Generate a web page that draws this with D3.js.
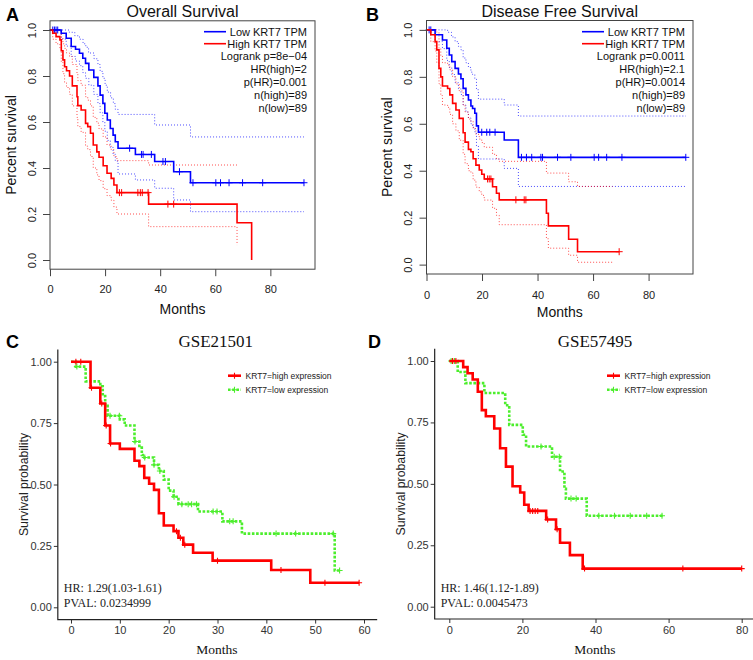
<!DOCTYPE html>
<html><head><meta charset="utf-8">
<script src="https://cdn.jsdelivr.net/npm/d3@7"></script>
<style>body{margin:0;background:#fff}svg{display:block}</style>
</head><body>
<svg id="chart" width="753" height="660"></svg>
<script>
// ---------- tick labels ----------
const rTicksX = [0, 20, 40, 60, 80];
const rTicksY = [0, 0.2, 0.4, 0.6, 0.8, 1.0];
const ggTicksY = [0, 0.25, 0.5, 0.75, 1];
const cTicksX = [0, 10, 20, 30, 40, 50, 60];
const dTicksX = [0, 20, 40, 60, 80];
const rLegend = ["Low KRT7 TPM", "High KRT7 TPM"];
const ggLegend = ["KRT7=high expression", "KRT7=low expression"];
const osStats = ["Logrank p=8e\u221204", "HR(high)=2", "p(HR)=0.001", "n(high)=89", "n(low)=89"];
const dfsStats = ["Logrank p=0.0011", "HR(high)=2.1", "p(HR)=0.0014", "n(high)=89", "n(low)=89"];
const cStats = ["HR: 1.29(1.03-1.61)", "PVAL: 0.0234999"];
const dStats = ["HR: 1.46(1.12-1.89)", "PVAL: 0.0045473"];

// ---------- A: Overall survival [month, survival] ----------
const osLow = [[0,1],[4.06,0.986],[5.88,0.964],[7.7,0.928],[9.27,0.916],[10.7,0.899],[11.9,0.877],[12.9,0.855],[14.1,0.826],[15.9,0.794],[17.4,0.757],[18.2,0.717],[19.2,0.681],[19.9,0.638],[20.8,0.609],[21.9,0.572],[22.9,0.543],[23.7,0.514],[24.7,0.486],[31,0.459],[38,0.428],[44.9,0.384],[51,0.336],[92.2,0.336]];
const osLowCens = [1.0,1.6,2.2,2.8,28.9,33.2,33.8,36.8,41.0,41.9,47,51.9,60.2,61.9,65,69.9,77.2,92.2];
const osLowUp = [[0,1],[7,0.99],[9,0.975],[10.7,0.96],[12,0.94],[13,0.925],[14,0.9],[16,0.875],[17.4,0.85],[18.2,0.82],[19.2,0.79],[20,0.76],[20.8,0.73],[22,0.705],[23,0.68],[23.7,0.655],[24.7,0.633],[38,0.587],[51,0.535],[92.2,0.535]];
const osLowLo = [[0,1],[4.06,0.96],[5.88,0.93],[7.7,0.885],[9.27,0.865],[10.7,0.845],[11.9,0.815],[12.9,0.79],[14.1,0.76],[15.9,0.72],[17.4,0.68],[18.2,0.64],[19.2,0.6],[19.9,0.56],[20.8,0.52],[21.9,0.49],[22.9,0.46],[23.7,0.43],[24.7,0.374],[31,0.348],[38,0.312],[44.9,0.261],[51,0.21],[92.2,0.21]];
const osHigh = [[0,1],[1,0.986],[2.2,0.971],[3.6,0.957],[4.1,0.91],[4.7,0.87],[5.3,0.84],[6,0.823],[7.1,0.8],[8.1,0.757],[9.8,0.71],[10.1,0.671],[11.3,0.652],[12.9,0.594],[13.7,0.58],[14.7,0.551],[15.7,0.5],[17,0.47],[17.8,0.447],[19.3,0.41],[20.7,0.377],[22.2,0.355],[23.2,0.326],[24.3,0.293],[35.8,0.243],[67.9,0.162],[73.2,0]];
const osHighCens = [25.2,26.0,31.9,32.8,33.5,35.6,42.8,44.9];
const osHighUp = [[0,1],[4.1,0.97],[4.7,0.94],[5.3,0.92],[6,0.9],[7.1,0.885],[8.1,0.85],[9.8,0.81],[10.1,0.78],[11.3,0.76],[12.9,0.71],[13.7,0.695],[14.7,0.67],[15.7,0.62],[17,0.595],[17.8,0.57],[19.3,0.535],[20.7,0.5],[22.2,0.48],[23.2,0.45],[24.3,0.432],[35.8,0.413],[67.9,0.413]];
const osHighLo = [[0,1],[1,0.96],[2.2,0.94],[3.6,0.92],[4.1,0.86],[4.7,0.81],[5.3,0.77],[6,0.75],[7.1,0.72],[8.1,0.67],[9.8,0.62],[10.1,0.58],[11.3,0.555],[12.9,0.495],[13.7,0.48],[14.7,0.45],[15.7,0.4],[17,0.37],[17.8,0.345],[19.3,0.31],[20.7,0.28],[22.2,0.26],[23.2,0.23],[24.3,0.2],[35.8,0.145],[67.9,0.065]];

// ---------- B: Disease free survival ----------
const dfsLow = [[0,1],[3.1,0.979],[5.75,0.957],[7.3,0.922],[8.2,0.893],[9.1,0.865],[10.3,0.836],[11.5,0.812],[12.4,0.792],[13.2,0.751],[14.2,0.723],[15.1,0.701],[16,0.676],[16.6,0.665],[17.4,0.645],[18,0.591],[18.7,0.564],[28,0.531],[33.1,0.457],[93.4,0.457]];
const dfsLowCens = [0.95,1.55,19.9,21.7,22.8,24.7,34.2,36,37.9,41.2,41.8,47.2,52,60.4,62,64.9,70.4,93.4];
const dfsLowUp = [[0,1],[7.6,0.99],[9,0.97],[10.3,0.95],[11.5,0.93],[12.4,0.915],[13.2,0.88],[14.2,0.86],[15.1,0.84],[16,0.82],[16.6,0.81],[17.4,0.79],[18,0.745],[18.7,0.705],[28,0.68],[33.1,0.633],[93.4,0.633]];
const dfsLowLo = [[0,1],[3.1,0.95],[5.75,0.92],[7.3,0.87],[8.2,0.84],[9.1,0.81],[10.3,0.775],[11.5,0.75],[12.4,0.725],[13.2,0.68],[14.2,0.65],[15.1,0.625],[16,0.6],[16.6,0.585],[17.4,0.565],[18,0.505],[18.7,0.45],[28,0.41],[33.1,0.333],[93.4,0.333]];
const dfsHigh = [[0,1],[1.55,0.979],[3.1,0.95],[3.7,0.915],[4.5,0.836],[5.15,0.8],[5.75,0.761],[7.6,0.75],[8.4,0.723],[9.4,0.687],[10.6,0.659],[11.8,0.623],[13.2,0.562],[13.9,0.522],[15.1,0.491],[16,0.481],[16.8,0.451],[17.8,0.424],[19,0.403],[19.9,0.385],[20.8,0.365],[23.8,0.332],[25.2,0.304],[26.2,0.276],[43.2,0.219],[43.9,0.165],[51.2,0.108],[54.4,0.055],[69.4,0.055]];
const dfsHighCens = [22,22.6,23.2,32.2,35.2,35.8,69.4];
const dfsHighUp = [[0,1],[3.7,0.99],[4.5,0.92],[5.15,0.89],[5.75,0.86],[7.6,0.85],[8.4,0.83],[9.4,0.8],[10.6,0.77],[11.8,0.74],[13.2,0.68],[13.9,0.65],[15.1,0.62],[16,0.61],[16.8,0.58],[17.8,0.555],[19,0.535],[19.9,0.52],[20.8,0.5],[23.8,0.47],[25.2,0.45],[26.2,0.44],[43.2,0.39],[51.2,0.353],[54.4,0.333],[67,0.333]];
const dfsHighLo = [[0,1],[1.55,0.95],[3.1,0.91],[3.7,0.86],[4.5,0.77],[5.15,0.72],[5.75,0.68],[7.6,0.67],[8.4,0.64],[9.4,0.6],[10.6,0.57],[11.8,0.53],[13.2,0.47],[13.9,0.43],[15.1,0.4],[16,0.39],[16.8,0.36],[17.8,0.33],[19,0.31],[19.9,0.295],[20.8,0.275],[23.8,0.24],[25.2,0.21],[26.2,0.17],[43.2,0.11],[43.9,0.07],[51.2,0.04],[54.4,0.01],[67,0.01]];

// ---------- C: GSE21501 ----------
const cHigh = [[0,1],[4,0.894],[6,0.83],[7,0.74],[8,0.667],[10,0.645],[13,0.597],[14,0.575],[15,0.527],[16,0.503],[17,0.478],[18,0.383],[19,0.333],[21,0.31],[22,0.283],[23,0.255],[25,0.222],[29,0.19],[41,0.152],[49,0.1],[59,0.1]];
const cHighCens = [1,2,4.2,6.3,7.2,8.1,21.6,22.4,23.3,30,43,52,59];
const cLow = [[0,1],[1,0.98],[3,0.92],[6,0.9],[6.5,0.86],[7,0.82],[7.5,0.78],[10,0.765],[11,0.74],[13,0.675],[14,0.65],[14.5,0.62],[15,0.61],[17,0.58],[18,0.555],[19,0.52],[20,0.475],[21,0.45],[22,0.42],[26,0.39],[31,0.35],[35,0.3],[54,0.15],[55,0.15]];
const cLowCens = [1.2,8,9.9,13.1,15.1,17,18.2,21.1,22.7,24,24.7,25.7,29.1,29.9,32.5,33.2,42,46,53.7,55];

// ---------- D: GSE57495 ----------
const dHigh = [[0,1],[3.8,0.975],[5,0.95],[6.4,0.925],[7.8,0.875],[8.9,0.8],[10,0.775],[12.3,0.725],[13.9,0.645],[15.5,0.57],[17.3,0.49],[19.4,0.465],[20.5,0.415],[21.7,0.39],[26.5,0.355],[29.2,0.315],[30.3,0.26],[33,0.21],[36.5,0.155],[80,0.155]];
const dHighCens = [0.9,1.8,22.1,22.8,23.5,24.2,26.9,29.5,37,63.9,80];
const dLow = [[0,1],[2.3,0.955],[4.4,0.91],[9.6,0.87],[15.3,0.82],[16.4,0.74],[20.1,0.7],[21,0.652],[28.1,0.61],[30.3,0.55],[31.5,0.48],[31.9,0.44],[37.6,0.37],[58.4,0.37]];
const dLowCens = [0.5,1.4,25.1,28.7,30.1,33.3,34.7,40.9,45.2,49.5,54,58.2];

// ---------- drawing ----------
const svg = d3.select("#chart");
const SANS = "'Liberation Sans', Arial, sans-serif";
const SERIF = "'Liberation Serif', 'Times New Roman', serif";
const BLUE = "#0000ff", RED = "#ff0000", GREEN = "#4cee2c";

function survAt(steps, t) {
  let v = steps[0][1];
  for (const s of steps) { if (s[0] <= t) v = s[1]; }
  return v;
}
function crossPath(x, y, r) {
  return `M${x - r},${y}H${x + r}M${x},${y - r}V${y + r}`;
}

function rPanel(cfg) {
  const g = svg.append("g");
  const sx = d3.scaleLinear().domain([0, cfg.xMax]).range([cfg.x0, cfg.x1]);
  const sy = d3.scaleLinear().domain([-0.04, 1.04]).range([cfg.y1, cfg.y0]);
  const line = d3.line().x(d => sx(d[0])).y(d => sy(d[1])).curve(d3.curveStepAfter);

  cfg.ci.forEach(c => {
    g.append("path").attr("d", line(c.data)).attr("fill", "none")
      .attr("stroke", c.color).attr("stroke-width", 1).attr("stroke-opacity", 0.7)
      .attr("stroke-dasharray", "1,2");
  });
  cfg.curves.forEach(c => {
    g.append("path").attr("d", line(c.data)).attr("fill", "none")
      .attr("stroke", c.color).attr("stroke-width", 1.6);
    g.append("path").attr("d", c.cens.map(t => crossPath(sx(t), sy(survAt(c.data, t)), 3.5)).join(""))
      .attr("fill", "none").attr("stroke", c.color).attr("stroke-width", 1);
  });
  g.append("rect").attr("x", cfg.x0).attr("y", cfg.y0)
    .attr("width", cfg.x1 - cfg.x0).attr("height", cfg.y1 - cfg.y0)
    .attr("fill", "none").attr("stroke", "#444").attr("stroke-width", 1);

  const ax = d3.axisBottom(sx).tickValues(rTicksX).tickSize(7).tickPadding(cfg.xPad).tickFormat(d3.format("d"));
  const axg = g.append("g").attr("transform", `translate(0,${cfg.y1})`).call(ax);
  axg.select(".domain").remove();
  axg.selectAll("line").attr("stroke", "#444");
  axg.selectAll("text").attr("font-family", SANS).attr("font-size", 11).attr("fill", "#222");
  const ay = d3.axisLeft(sy).tickValues(rTicksY).tickSize(7).tickFormat(d3.format(".1f"));
  const ayg = g.append("g").attr("transform", `translate(${cfg.x0},0)`).call(ay);
  ayg.select(".domain").remove();
  ayg.selectAll("line").attr("stroke", "#444");
  ayg.selectAll("text").attr("font-family", SANS).attr("font-size", 11).attr("fill", "#222")
    .attr("text-anchor", "middle").attr("x", -18).attr("dy", "0.35em")
    .attr("transform", "rotate(-90,-18,0)");

  g.append("text").attr("x", (cfg.x0 + cfg.x1) / 2).attr("y", 16.5).attr("text-anchor", "middle")
    .attr("font-family", SANS).attr("font-size", 16).attr("fill", "#111").text(cfg.title);
  g.append("text").attr("x", cfg.letterX).attr("y", 21).attr("font-family", SANS)
    .attr("font-weight", "bold").attr("font-size", 18).attr("fill", "#000").text(cfg.letter);
  g.append("text").attr("transform", `translate(${cfg.x0 - 39},${(cfg.y0 + cfg.y1) / 2}) rotate(-90)`)
    .attr("text-anchor", "middle").attr("dy", "0.35em").attr("font-family", SANS)
    .attr("font-size", 14).attr("fill", "#111").text("Percent survival");
  g.append("text").attr("x", (cfg.x0 + cfg.x1) / 2).attr("y", cfg.monthsY).attr("text-anchor", "middle")
    .attr("font-family", SANS).attr("font-size", 14).attr("fill", "#111").text("Months");

  const rows = rLegend.concat(cfg.stats);
  const rowY = i => i < 2 ? 31.7 + i * 12 : 56.5 + (i - 2) * 13;
  const tx = cfg.x1 - 8;
  rows.forEach((t, i) => {
    g.append("text").attr("x", tx).attr("y", rowY(i)).attr("dy", "0.35em").attr("text-anchor", "end")
      .attr("font-family", SANS).attr("font-size", 11).attr("fill", "#111").text(t);
  });
  [BLUE, RED].forEach((col, i) => {
    g.append("line").attr("x1", cfg.x1 - 111).attr("x2", cfg.x1 - 89)
      .attr("y1", rowY(i)).attr("y2", rowY(i)).attr("stroke", col).attr("stroke-width", 1.6);
  });
}

rPanel({
  letter: "A", letterX: 6, title: "Overall Survival", stats: osStats,
  x0: 50, x1: 315, y0: 20.8, y1: 269.2, xMax: 96.2, xPad: 9, monthsY: 314,
  curves: [{data: osLow, cens: osLowCens, color: BLUE}, {data: osHigh, cens: osHighCens, color: RED}],
  ci: [{data: osLowUp, color: BLUE}, {data: osLowLo, color: BLUE}, {data: osHighUp, color: RED}, {data: osHighLo, color: RED}]
});
rPanel({
  letter: "B", letterX: 366, title: "Disease Free Survival", stats: dfsStats,
  x0: 426.5, x1: 693, y0: 20.5, y1: 274, xMax: 96, xPad: 10, monthsY: 317,
  curves: [{data: dfsLow, cens: dfsLowCens, color: BLUE}, {data: dfsHigh, cens: dfsHighCens, color: RED}],
  ci: [{data: dfsLowUp, color: BLUE}, {data: dfsLowLo, color: BLUE}, {data: dfsHighUp, color: RED}, {data: dfsHighLo, color: RED}]
});

function ggPanel(cfg) {
  const g = svg.append("g");
  const sx = d3.scaleLinear().domain([0, cfg.xMax]).range([cfg.xr0, cfg.xr1]);
  const sy = d3.scaleLinear().domain([0, 1]).range([cfg.yr0, cfg.yr1]);
  const ex = cfg.xMax * 0.05 * (cfg.xExpand || 1);
  const left = sx(-ex), bottom = sy(-0.05), top = sy(1.05);
  const line = d3.line().x(d => sx(d[0])).y(d => sy(d[1])).curve(d3.curveStepAfter);

  const series = [
    {data: cfg.high, cens: cfg.highCens, color: RED, dash: null},
    {data: cfg.low, cens: cfg.lowCens, color: GREEN, dash: "2.6,1.6"}
  ];
  series.slice().reverse().forEach(s => {
    g.append("path").attr("d", line(s.data)).attr("fill", "none").attr("stroke", s.color)
      .attr("stroke-width", 2.6).attr("stroke-dasharray", s.dash);
    g.append("path").attr("d", s.cens.map(t => crossPath(sx(t), sy(survAt(s.data, t)), 3)).join(""))
      .attr("fill", "none").attr("stroke", s.color).attr("stroke-width", 1.1);
  });

  const ax = d3.axisBottom(sx).tickValues(cfg.ticksX).tickSize(4).tickPadding(3).tickFormat(d3.format("d"));
  const axg = g.append("g").attr("transform", `translate(0,${bottom})`).call(ax);
  axg.select(".domain").remove();
  axg.selectAll("line").attr("stroke", "#333");
  axg.selectAll("text").attr("font-family", SANS).attr("font-size", 11).attr("fill", "#333");
  const ay = d3.axisLeft(sy).tickValues(ggTicksY).tickSize(4).tickPadding(2).tickFormat(d3.format(".2f"));
  const ayg = g.append("g").attr("transform", `translate(${left},0)`).call(ay);
  ayg.select(".domain").remove();
  ayg.selectAll("line").attr("stroke", "#333");
  ayg.selectAll("text").attr("font-family", SANS).attr("font-size", 11).attr("fill", "#333");
  g.append("path").attr("d", `M${left},${top}V${bottom}H${sx(cfg.xMax + ex)}`)
    .attr("fill", "none").attr("stroke", "#222").attr("stroke-width", 1.2);

  g.append("text").attr("x", cfg.titleX).attr("y", 347).attr("text-anchor", "middle")
    .attr("font-family", SERIF).attr("font-size", 17).attr("fill", "#111").text(cfg.title);
  g.append("text").attr("x", cfg.letterX).attr("y", 348).attr("font-family", SANS)
    .attr("font-weight", "bold").attr("font-size", 18).attr("fill", "#000").text(cfg.letter);
  g.append("text").attr("transform", `translate(${left - 34},${(top + bottom) / 2}) rotate(-90)`)
    .attr("text-anchor", "middle").attr("dy", "0.35em").attr("font-family", SANS)
    .attr("font-size", 12.3).attr("fill", "#222").text("Survival probability");
  g.append("text").attr("x", cfg.monthsX).attr("y", 654).attr("text-anchor", "middle")
    .attr("font-family", SERIF).attr("font-size", 13.5).attr("fill", "#111").text("Months");
  cfg.stats.forEach((t, i) => {
    g.append("text").attr("x", left + 6).attr("y", 592 + i * 14.5)
      .attr("font-family", SERIF).attr("font-size", 12).attr("fill", "#222").text(t);
  });

  [RED, GREEN].forEach((col, i) => {
    const y = 375.7 + i * 14;
    g.append("line").attr("x1", cfg.legX).attr("x2", cfg.legX + 13).attr("y1", y).attr("y2", y)
      .attr("stroke", col).attr("stroke-width", 2.6).attr("stroke-dasharray", i ? "2.6,1.6" : null);
    g.append("path").attr("d", crossPath(cfg.legX + 6.5, y, 3)).attr("stroke", col).attr("stroke-width", 1.1);
    g.append("text").attr("x", cfg.legX + 17.5).attr("y", y).attr("dy", "0.35em")
      .attr("font-family", SANS).attr("font-size", 8.5).attr("fill", "#222").text(ggLegend[i]);
  });
}

ggPanel({
  letter: "C", letterX: 6, title: "GSE21501", titleX: 215.8, monthsX: 217, legX: 228,
  xMax: 60, xr0: 71, xr1: 364, yr0: 607.3, yr1: 361.7, xExpand: 54 / 60, ticksX: cTicksX,
  high: cHigh, highCens: cHighCens, low: cLow, lowCens: cLowCens, stats: cStats
});
ggPanel({
  letter: "D", letterX: 368, title: "GSE57495", titleX: 595, monthsX: 595, legX: 607,
  xMax: 80, xr0: 449.3, xr1: 741.7, yr0: 606.7, yr1: 361, xExpand: 1, ticksX: dTicksX,
  high: dHigh, highCens: dHighCens, low: dLow, lowCens: dLowCens, stats: dStats
});
</script>
</body></html>
